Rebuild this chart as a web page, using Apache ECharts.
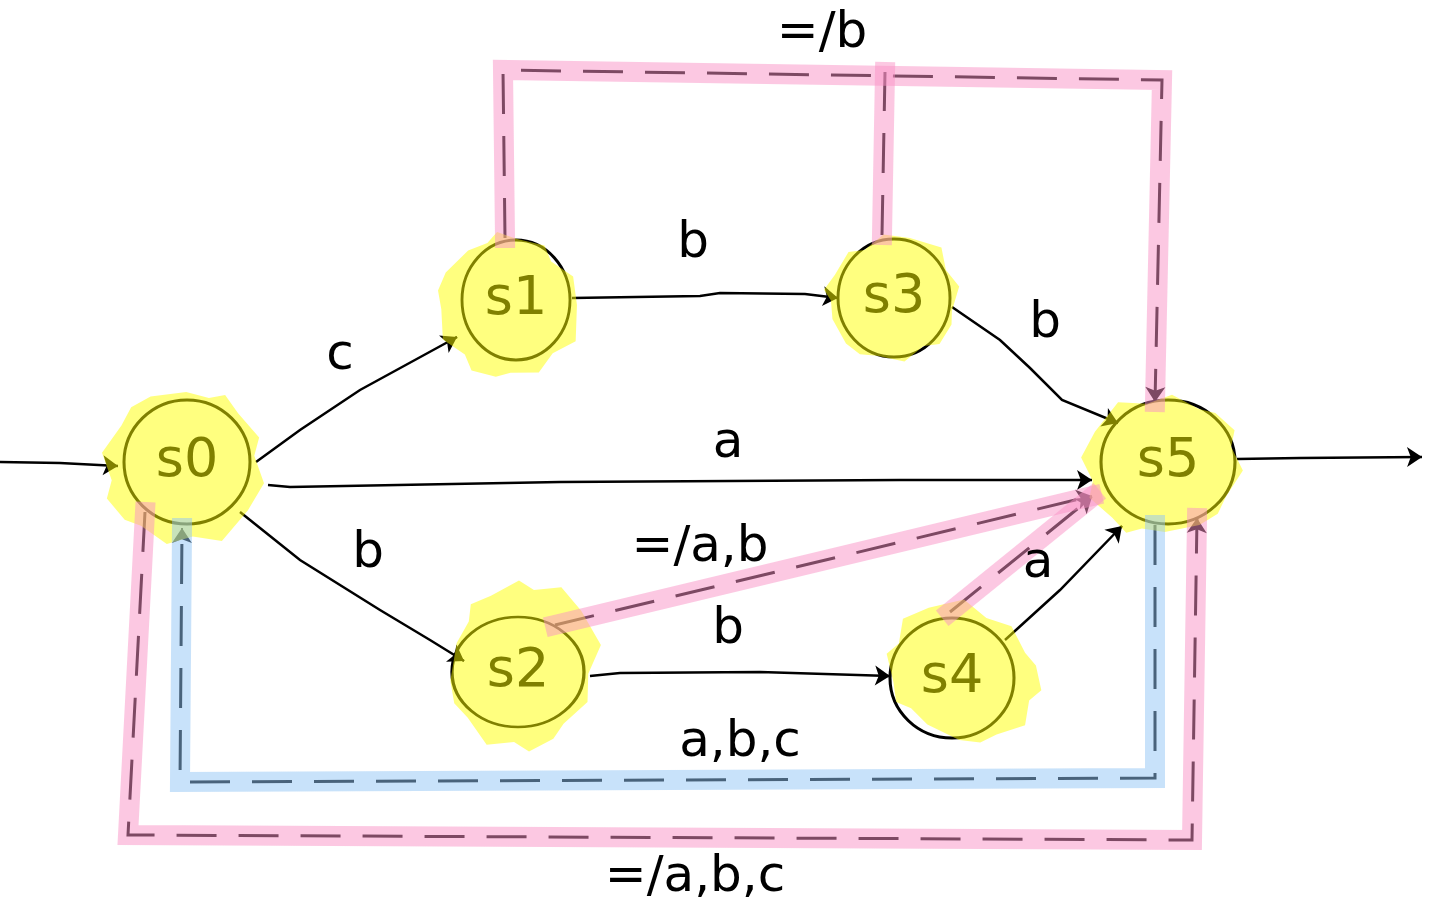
<!DOCTYPE html>
<html>
<head>
<meta charset="utf-8">
<script src="https://cdn.jsdelivr.net/npm/echarts@6/dist/echarts.min.js"></script>
<style>
html, body { margin: 0; padding: 0; background: #fff; }
#chart { width: 1440px; height: 906px; }
</style>
</head>
<body>
<div id="chart"></div>
<script>
// states of the automaton (drawing units = pixels of the sketch)
var stateNames = ['s0', 's1', 's2', 's3', 's4', 's5'];
var stateX = [187, 516, 518, 894, 952, 1168];
var stateY = [462, 300, 672, 298, 678, 462];

// plain transitions, drawn as hand-wobbly polylines
var transitionNames = ['in', 'c', 'b', 'b', 'a', 'b', 'b', 'a', 'out'];
var transitionPaths = [
	[[0, 462], [60, 463], [118, 466]],
	[[256, 462], [300, 430], [360, 390], [457, 337]],
	[[572, 298], [700, 296], [720, 293], [805, 294], [838, 298]],
	[[952, 307], [1000, 340], [1030, 368], [1062, 400], [1118, 423]],
	[[268, 485], [290, 487], [560, 482], [900, 480], [1092, 480]],
	[[240, 512], [300, 560], [380, 610], [430, 640], [464, 661]],
	[[590, 676], [620, 673], [760, 672], [890, 676]],
	[[1005, 640], [1060, 590], [1122, 526]],
	[[1237, 459], [1300, 458], [1422, 457]]
];

// highlighted "else" transitions
var pinkPaths = [
	[[505, 238], [503, 70], [1162, 80], [1155, 402]],
	[[882, 235], [885, 72]],
	[[555, 625], [1092, 496]],
	[[950, 612], [1092, 497]],
	[[145, 512], [128, 835], [1192, 840], [1197, 518]]
];
var bluePaths = [
	[[1155, 525], [1155, 778], [180, 782], [182, 528]]
];

// labels
var labelTexts = ['c', 'b', 'b', 'a', 'b', 'b', 'a', '=/b', '=/a,b', 'a,b,c', '=/a,b,c'];
var labelX = [340, 693, 1045, 728, 368, 728, 1038, 822, 700, 740, 695];
var labelY = [356, 244, 324, 444, 554, 630, 564, 34, 548, 743, 878];

var ringSize = { s0: [126, 124], s1: [108, 120], s2: [132, 110], s3: [112, 118], s4: [124, 120], s5: [134, 124] };
var blobSize = { s0: [162, 152], s1: [142, 140], s2: [172, 142], s3: [126, 130], s4: [160, 128], s5: [160, 136] };
var blobShift = { s0: [-4, 6], s1: [-8, 8], s2: [6, -6], s3: [0, 0], s4: [12, -6], s5: [-6, 2] };
var blobPath = 'path://M30,3 L52,0 L66,4 L76,2 L84,14 L97,30 L94,42 L100,60 L90,78 L74,98 L56,95 L40,100 L24,88 L14,84 L3,70 L6,58 L0,40 L12,22 L18,10 Z';

var chart = echarts.init(document.getElementById('chart'));

var stateData = stateNames.map(function (n, i) {
	return { name: n, value: [stateX[i], stateY[i]] };
});

function toLines(paths) {
	return paths.map(function (p) {
		return { coords: p };
	});
}

// a tiny last segment of each path, only to carry the arrow head
function arrowTips(paths) {
	return paths.map(function (p) {
		var a = p[p.length - 2], b = p[p.length - 1];
		var dx = b[0] - a[0], dy = b[1] - a[1];
		var len = Math.sqrt(dx * dx + dy * dy);
		return { coords: [[b[0] - dx / len * 2, b[1] - dy / len * 2], b] };
	});
}

var pinkArrowed = pinkPaths.filter(function (p, i) { return i !== 1; });
var dashStyle = { color: '#000', width: 3, type: [40, 22], opacity: 1 };

var option = {
	animation: false,
	backgroundColor: '#fff',
	grid: { left: 0, right: 0, top: 0, bottom: 0 },
	xAxis: { type: 'value', min: 0, max: 1440, show: false },
	yAxis: { type: 'value', min: 0, max: 906, inverse: true, show: false },
	series: [
		{
			// dashed pen strokes under the highlighters
			type: 'lines',
			coordinateSystem: 'cartesian2d',
			polyline: true,
			z: 1,
			silent: true,
			lineStyle: dashStyle,
			data: toLines(pinkPaths.concat(bluePaths))
		},
		{
			type: 'lines',
			coordinateSystem: 'cartesian2d',
			polyline: true,
			z: 2,
			silent: true,
			lineStyle: { color: '#000', width: 2.5, opacity: 1 },
			data: transitionPaths.map(function (p, i) {
				return { name: transitionNames[i], coords: p };
			})
		},
		{
			// arrow heads
			type: 'lines',
			coordinateSystem: 'cartesian2d',
			z: 2,
			silent: true,
			symbol: ['none', 'arrow'],
			symbolSize: 15,
			lineStyle: { color: '#000', width: 2, opacity: 1 },
			data: arrowTips(transitionPaths.concat(pinkArrowed, bluePaths))
		},
		{
			type: 'scatter',
			z: 3,
			silent: true,
			symbol: 'circle',
			symbolSize: function (v, p) { return ringSize[p.name]; },
			itemStyle: { color: 'rgba(0,0,0,0)', borderColor: '#000', borderWidth: 3, opacity: 1 },
			data: stateData
		},
		{
			// yellow highlighter over the states
			type: 'scatter',
			z: 5,
			silent: true,
			symbol: blobPath,
			symbolKeepAspect: false,
			symbolSize: function (v, p) { return blobSize[p.name]; },
			symbolOffset: function (v, p) { return blobShift[p.name]; },
			symbolRotate: function (v, p) { return p.dataIndex * 37; },
			itemStyle: { color: '#ffff00', opacity: 0.5 },
			data: stateData
		},
		{
			type: 'lines',
			coordinateSystem: 'cartesian2d',
			polyline: true,
			z: 6,
			silent: true,
			lineStyle: { color: '#f991c6', width: 20, opacity: 0.5, cap: 'square', join: 'miter' },
			data: toLines(pinkPaths)
		},
		{
			type: 'lines',
			coordinateSystem: 'cartesian2d',
			polyline: true,
			z: 6,
			silent: true,
			lineStyle: { color: '#91c5f5', width: 20, opacity: 0.5, cap: 'square', join: 'miter' },
			data: toLines(bluePaths)
		},
		{
			// state names, pen seen through the yellow
			type: 'scatter',
			z: 9,
			silent: true,
			symbolSize: 0,
			itemStyle: { opacity: 1 },
			label: {
				show: true,
				position: 'inside',
				formatter: '{b}',
				fontFamily: 'DejaVu Sans',
				fontSize: 54,
				color: '#808000'
			},
			data: stateData
		},
		{
			type: 'scatter',
			z: 9,
			silent: true,
			symbolSize: 0,
			itemStyle: { opacity: 1 },
			label: {
				show: true,
				position: 'inside',
				formatter: '{b}',
				fontFamily: 'DejaVu Sans',
				fontSize: 50,
				color: '#000'
			},
			data: labelTexts.map(function (t, i) {
				return { name: t, value: [labelX[i], labelY[i]] };
			})
		}
	]
};

chart.setOption(option);
</script>
</body>
</html>
